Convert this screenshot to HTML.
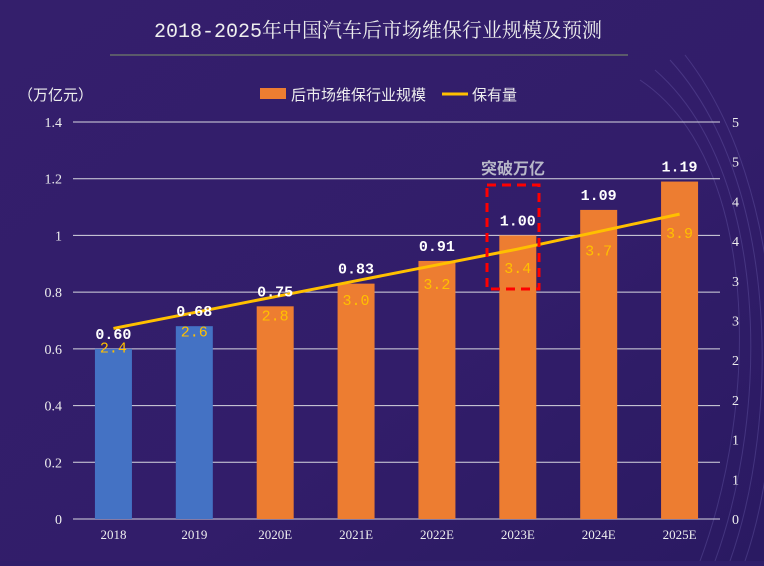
<!DOCTYPE html>
<html><head><meta charset="utf-8"><style>
html,body{margin:0;padding:0}
body{width:764px;height:561px;overflow:hidden;background:#2f1e6a;font-family:"Liberation Serif","Noto Serif CJK SC",serif}
</style></head><body>
<svg id="c" width="764" height="561" xmlns="http://www.w3.org/2000/svg">
<defs>
<linearGradient id="bg" x1="0" y1="0" x2="1" y2="1">
<stop offset="0" stop-color="#341f6c"/><stop offset="0.6" stop-color="#321d6a"/><stop offset="1" stop-color="#2a1a62"/>
</linearGradient>
</defs>
<rect width="764" height="561" fill="url(#bg)"/>
<g opacity="0.25" stroke="#8a7fd0" fill="none">
<path d="M640 80 C760 160 760 400 700 561"/><path d="M655 70 C770 170 770 410 715 561"/>
<path d="M670 60 C780 180 780 420 730 561"/><path d="M685 55 C790 190 790 430 745 561"/>
</g>
<text x="378" y="37" text-anchor="middle" fill="#eeeeee" font-size="20" font-family="Liberation Mono,Noto Serif CJK SC,serif">2018-2025年中国汽车后市场维保行业规模及预测</text>
<line x1="110" y1="55" x2="628" y2="55" stroke="#5a5a6a" stroke-width="2"/>
<text x="18" y="100" fill="#eeeeee" font-size="15" font-family="Liberation Sans,Noto Sans CJK SC,sans-serif">（万亿元）</text>
<g>
<rect x="260" y="88" width="26" height="11" fill="#ed7d31"/>
<text x="291" y="100" fill="#eeeeee" font-size="15" font-family="Liberation Sans,Noto Sans CJK SC,sans-serif">后市场维保行业规模</text>
<line x1="442" y1="94" x2="468" y2="94" stroke="#ffc000" stroke-width="3"/>
<text x="472" y="100" fill="#eeeeee" font-size="15" font-family="Liberation Sans,Noto Sans CJK SC,sans-serif">保有量</text>
</g>
<g id="grid"></g><g id="bars"></g><g id="line"></g><g id="labels"></g>
<text x="513" y="174" text-anchor="middle" fill="#b8b8c8" font-size="16" font-weight="bold" font-family="Liberation Sans,Noto Sans CJK SC,sans-serif">突破万亿</text>
<rect x="487" y="185" width="52" height="104" fill="none" stroke="#ff0000" stroke-width="3" stroke-dasharray="9,6"/>
</svg>
<script>
const categories=["2018","2019","2020E","2021E","2022E","2023E","2024E","2025E"];
const scaleValues=[0.60,0.68,0.75,0.83,0.91,1.00,1.09,1.19];
const scaleLabels=["0.60","0.68","0.75","0.83","0.91","1.00","1.09","1.19"];
const parcValues=[2.4,2.6,2.8,3.0,3.2,3.4,3.62,3.84];
const parcLabels=["2.4","2.6","2.8","3.0","3.2","3.4","3.7","3.9"];
const leftTicks=[0,0.2,0.4,0.6,0.8,1,1.2,1.4];
const leftTickLabels=["0","0.2","0.4","0.6","0.8","1","1.2","1.4"];
const rightTicks=[0,0.5,1,1.5,2,2.5,3,3.5,4,4.5,5];
const rightTickLabels=["0","1","1","2","2","3","3","4","4","5","5"];
const NS="http://www.w3.org/2000/svg";
const x0=73,x1=720,yb=519,yt=122;
const yL=v=>yb-(v/1.4)*(yb-yt);
const yR=v=>yb-(v/5)*(yb-yt);
const step=(x1-x0)/categories.length;
const xC=i=>x0+step*(i+0.5);
function mk(t,a,p){const e=document.createElementNS(NS,t);for(const k in a)e.setAttribute(k,a[k]);p.appendChild(e);return e;}
const grid=document.getElementById('grid');
leftTicks.forEach((v,i)=>{
 if(v>0){const l=mk('line',{x1:x0,x2:x1,y1:yL(v),y2:yL(v),stroke:'#d8d8e0','stroke-width':1},grid);
 
 }
 const t=mk('text',{x:62,y:yL(v)+5,'text-anchor':'end',fill:'#eeeeee','font-size':14},grid);t.textContent=leftTickLabels[i];
 
 
});
mk('line',{x1:x0,x2:x1,y1:yb,y2:yb,stroke:'#d8d8e0'},grid);
rightTicks.forEach((v,i)=>{
 const t=mk('text',{x:732,y:yR(v)+5,fill:'#eeeeee','font-size':14},grid);t.textContent=rightTickLabels[i];
 
 
});
const bars=document.getElementById('bars'),labels=document.getElementById('labels');
categories.forEach((c,i)=>{
 const h=yb-yL(scaleValues[i]);
 const r=mk('rect',{x:xC(i)-18.5,y:yL(scaleValues[i]),width:37,height:h,fill:i<2?'#4472c4':'#ed7d31'},bars);
 
 
 const t=mk('text',{x:xC(i),y:yb+20,'text-anchor':'middle',fill:'#eeeeee','font-size':13},labels);t.textContent=c;
 
 
 const v=mk('text',{x:xC(i),y:yL(scaleValues[i])-10,'text-anchor':'middle',fill:'#ffffff','font-size':15,'font-weight':'bold','font-family':'Liberation Mono,monospace'},labels);v.textContent=scaleLabels[i];
 
 
 const p=mk('text',{x:xC(i),y:yR(parcValues[i])+24,'text-anchor':'middle',fill:'#ffc000','font-size':15,'font-family':'Liberation Mono,monospace'},labels);p.textContent=parcLabels[i];
 
 
});
const pl=mk('polyline',{points:parcValues.map((v,i)=>xC(i)+','+yR(v)).join(' '),fill:'none',stroke:'#ffc000','stroke-width':3},document.getElementById('line'));


</script>
</body></html>
